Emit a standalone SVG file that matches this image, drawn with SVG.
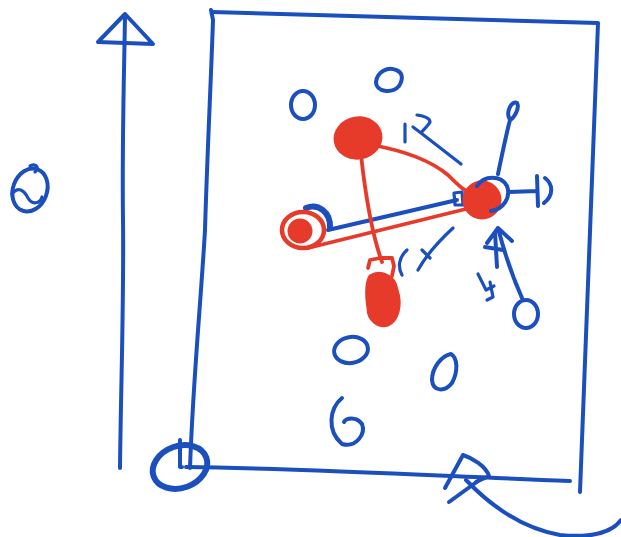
<svg xmlns="http://www.w3.org/2000/svg" width="621" height="537" viewBox="0 0 621 537">
<style>
.b{fill:none;stroke:#1b4fbe;stroke-width:4;stroke-linecap:round;stroke-linejoin:round}
.bt{fill:none;stroke:#1b4fbe;stroke-width:3.2;stroke-linecap:round;stroke-linejoin:round}
.r{fill:none;stroke:#e63a2b;stroke-width:3.8;stroke-linecap:round;stroke-linejoin:round}
.rf{fill:#e63a2b;stroke:#e63a2b;stroke-width:3;stroke-linejoin:round}
</style>
<rect width="621" height="537" fill="#ffffff"/>
<g id="axes">
  <path class="b" d="M120,468 C121,380 124,300 123,220 C122,140 124,80 125,16"/>
  <path class="b" d="M125,14 L98,42 L153,44 L125,14"/>
  <path class="b" d="M211,10 L213,20 C211,80 207,160 205,230 C201,300 193,380 190,468"/>
  <path class="b" d="M212,12 C330,16 460,19 598,23 C594,150 588,320 580,492"/>
  <path class="b" d="M186,467 C290,468 400,474 570,481"/>
  <ellipse class="b" cx="180" cy="467" rx="28" ry="21" transform="rotate(-20 180 467)" style="stroke-width:6"/>
  <path class="b" d="M180,440 L180,467 L182,467"/>
</g>
<g id="bottom-arrow">
  <path class="b" d="M463,455 L445,488 M463,455 C472,458 486,466 489,476 L476,482"/>
  <path class="b" d="M449,502 L478,481"/>
  <path class="b" d="M466,480 C490,505 520,528 560,535 C590,538 612,533 621,520"/>
</g>
<g id="label-left">
  <ellipse class="b" cx="30" cy="190" rx="17" ry="22" transform="rotate(20 30 190)"/>
  <path class="bt" d="M12,194 C18,186 24,190 28,198 C32,205 40,204 42,197"/>
  <path class="bt" d="M30,166 C36,163 40,168 35,172"/>
</g>
<g id="dots">
  <g id="dot1"><ellipse class="b" cx="303" cy="105" rx="12" ry="14"/></g>
  <g id="dot2"><path class="b" d="M396,70 C388,66 377,72 376,82 C376,92 392,94 399,86 C404,78 402,72 396,70"/></g>
  <g id="dot3"><ellipse class="b" cx="351" cy="350" rx="17" ry="13" transform="rotate(-10 351 350)"/></g>
  <g id="dot4"><path class="b" d="M451,354 C441,356 432,368 432,380 C433,392 445,392 452,383 C458,372 458,358 451,354"/></g>
  <g id="dot5"><path class="b" d="M342,398 C330,408 326,430 342,444 C356,448 366,434 362,424 C356,416 346,418 344,422"/></g>
  <g id="dot6"><ellipse class="b" cx="526" cy="314" rx="12" ry="14"/></g>
</g>
<g id="connectors">
  <path class="b" d="M328,230 L457,200"/>
  <path class="r" d="M308,248 L470,208"/>
  <path class="r" d="M372,145 C400,150 430,160 448,175 C458,185 465,192 476,196"/>
  <path class="r" d="M361,155 C366,200 374,240 382,262"/>
  <path class="b" d="M498,174 C502,155 506,135 510,120 C505,112 512,100 517,103 C520,108 514,118 510,120"/>
  <path class="b" d="M509,192 L537,191 M537,176 L538,206 M545,178 C553,184 554,195 544,203"/>
  <path class="b" d="M522,298 C514,280 505,255 498,228 M498,228 L487,243 M498,228 L512,241 M495,232 L497,267 M485,247 L503,250"/>
  <path class="bt" d="M478,274 L486,290 L494,286 M490,282 L493,297 L487,300"/>
  <path class="bt" d="M405,124 L405,142 M417,115 C424,116 430,118 430,122 C428,126 423,130 421,133 M413,127 L421,133 L461,164"/>
  <path class="bt" d="M453,228 C440,240 428,252 418,270 M407,250 C398,258 398,268 402,275 M422,250 L430,258"/>
  <path class="bt" d="M454,193 L462,192 L463,205 L455,205 Z"/>
</g>
<g id="node-top">
  <ellipse class="rf" cx="358" cy="138" rx="23" ry="20" transform="rotate(-10 358 138)"/>
</g>
<g id="node-right">
  <circle class="rf" cx="482" cy="200" r="18"/>
  <path class="b" d="M477,186 C484,175 501,175 507,186 C511,197 504,209 491,211"/>
</g>
<g id="node-left">
  <path class="b" d="M306,208 C318,203 331,212 330,228" style="stroke-width:6"/>
  <ellipse class="r" cx="303" cy="230" rx="21" ry="18" style="stroke-width:4.5"/>
  <circle class="rf" cx="300" cy="231" r="11"/>
</g>
<g id="node-bottom">
  <path class="r" d="M368,268 L370,260 L380,258 L392,258 L394,266 L392,276"/>
  <path class="rf" d="M370,276 C380,270 395,275 397,290 C402,305 398,320 388,325 C378,328 368,320 368,308 C366,295 366,283 370,276 Z"/>
</g>
</svg>
